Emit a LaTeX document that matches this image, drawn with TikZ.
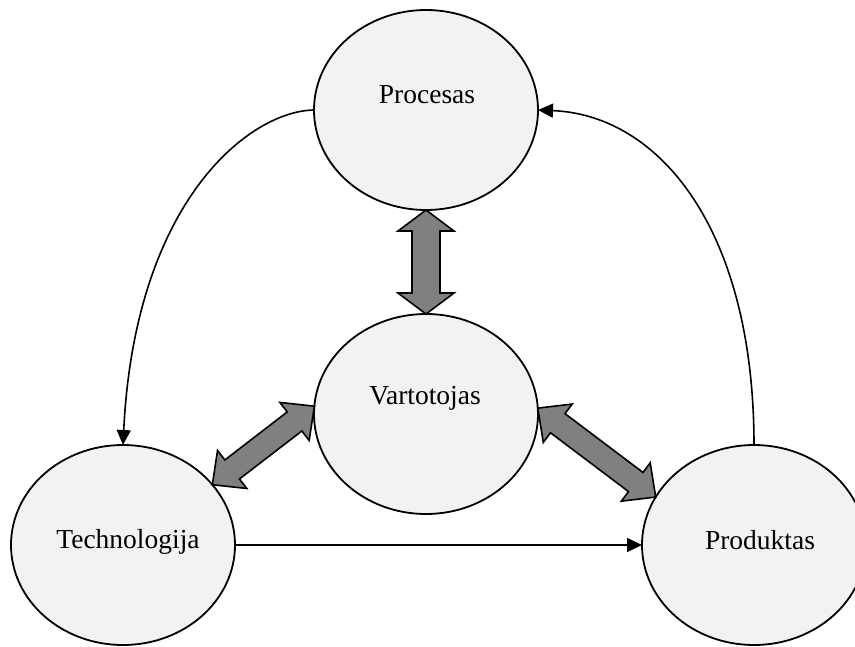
\documentclass[tikz,border=0pt]{standalone}
\usepackage{fontspec}
\setmainfont{Liberation Serif}
\usetikzlibrary{calc,arrows.meta,shapes.geometric}
\definecolor{bubblefill}{HTML}{F2F2F2}
\definecolor{blockgray}{HTML}{808080}
\tikzset{
  bubble/.style={ellipse, draw, line width=1.8pt, fill=bubblefill,
    minimum width=224pt, minimum height=200pt, inner sep=0pt, outer sep=0pt},
  caption/.style={anchor=base, inner sep=0pt, font=\fontsize{27.5}{31}\selectfont},
  flow/.style={line width=1.6pt, -{Triangle[length=15pt,width=14pt]}},
  block/.style={draw, line width=1.6pt, fill=blockgray, line join=miter},
}
% double-headed block arrow between two points:
% #1,#2 tips, #3 head length, #4 head half-width, #5 shaft half-width
\newcommand{\dblarrow}[5]{%
  \path ($(#1)!#3!(#2)$) coordinate (ha) ($(#2)!#3!(#1)$) coordinate (hb);
  \draw[block] (#1) -- ($(ha)!#4!90:(#2)$) -- ($(ha)!#5!90:(#2)$)
    -- ($(hb)!#5!-90:(#1)$) -- ($(hb)!#4!-90:(#1)$) -- (#2)
    -- ($(hb)!#4!90:(#1)$) -- ($(hb)!#5!90:(#1)$)
    -- ($(ha)!#5!-90:(#2)$) -- ($(ha)!#4!-90:(#2)$) -- cycle;}
\begin{document}
\begin{tikzpicture}[x=1pt,y=-1pt]
  \useasboundingbox (0,0) rectangle (855,646);

  % the four ellipses
  \node[bubble] (proc) at (426,110) {};
  \node[bubble] (vart) at (426,414) {};
  \node[bubble] (tech) at (123,545) {};
  \node[bubble] (prod) at (754,545) {};

  % their captions
  \node[caption] (lproc) at (427,103) {Procesas};
  \node[caption] (lvart) at (425,404) {Vartotojas};
  \node[caption] (ltech) at (128,548) {Technologija};
  \node[caption] (lprod) at (760,549) {Produktas};

  % thin directed links
  \draw[flow] (proc.west) .. controls (250,111) and (135,200) .. (tech.north);
  \draw[flow] (prod.north) .. controls (754,230) and (660,115) .. (proc.east);
  \draw[flow] (tech.east) -- (prod.west);

  % thick two-way links to the centre
  \dblarrow{proc.south}{vart.north}{21pt}{28pt}{14pt}
  \dblarrow{vart.176}{tech.34}{25pt}{24pt}{12pt}
  \dblarrow{vart.3}{prod.154}{25pt}{24pt}{12pt}
\end{tikzpicture}
\end{document}
